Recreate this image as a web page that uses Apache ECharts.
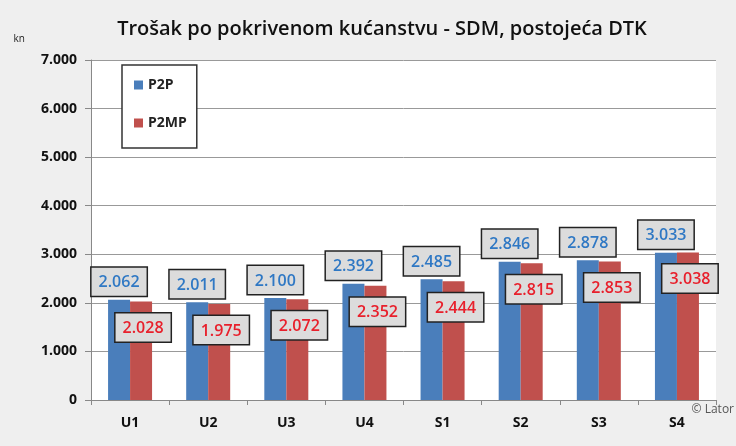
<!DOCTYPE html>
<html>
<head>
<meta charset="utf-8">
<script src="https://cdn.jsdelivr.net/npm/echarts@6/dist/echarts.min.js"></script>
<style>
  html, body { margin: 0; padding: 0; background: #efefef; }
  #chart { width: 736px; height: 446px; }
</style>
</head>
<body>
<div id="chart"></div>
<script>
const categories = ['U1', 'U2', 'U3', 'U4', 'S1', 'S2', 'S3', 'S4']
const p2p = [2062, 2011, 2100, 2392, 2485, 2846, 2878, 3033]
const p2mp = [2028, 1975, 2072, 2352, 2444, 2815, 2853, 3038]

// hrvatski zapis: točka kao razdjelnik tisućica
const fmt = v => String(v).replace(/\B(?=(\d{3})+(?!\d))/g, '.')

const boxLabel = {
  show: true,
  fontFamily: 'Open Sans',
  fontSize: 16,
  fontWeight: 600,
  backgroundColor: '#dcdcdc',
  borderColor: '#222',
  borderWidth: 1.5,
  padding: [7, 7, 5, 7],
  formatter: p => fmt(p.value)
}

const chart = echarts.init(document.getElementById('chart'))
chart.setOption({
  backgroundColor: '#efefef',
  title: {
    text: 'Trošak po pokrivenom kućanstvu - SDM, postojeća DTK',
    left: 377,
    textAlign: 'center',
    top: 14,
    textStyle: { fontFamily: 'Open Sans', fontSize: 20, fontWeight: 600, color: '#111' }
  },
  legend: {
    orient: 'vertical',
    left: 122,
    top: 65,
    itemWidth: 9,
    itemHeight: 9,
    itemGap: 24,
    icon: 'rect',
    padding: [13, 10, 18, 12],
    backgroundColor: '#fff',
    borderColor: '#333',
    borderWidth: 1.5,
    textStyle: { fontFamily: 'Open Sans', fontSize: 14, fontWeight: 'bold', color: '#222' }
  },
  grid: { left: 91, right: 20, top: 60, bottom: 46, show: true, backgroundColor: '#fff', borderWidth: 0 },
  xAxis: {
    type: 'category',
    data: categories,
    axisLine: { lineStyle: { color: '#888' } },
    axisTick: { show: true, length: 5, lineStyle: { color: '#888' } },
    axisLabel: { color: '#111', fontFamily: 'Open Sans', fontSize: 14, fontWeight: 'bold', margin: 16 }
  },
  yAxis: {
    type: 'value',
    min: 0,
    max: 7000,
    interval: 1000,
    name: 'kn',
    nameLocation: 'end',
    nameGap: 16,
    nameTextStyle: { fontFamily: 'Open Sans', fontSize: 10, color: '#222', align: 'right', padding: [0, 66, 0, 0] },
    axisLine: { show: true, lineStyle: { color: '#888' } },
    axisTick: { show: true, length: 6, lineStyle: { color: '#888' } },
    splitLine: { lineStyle: { color: '#999', width: 1 } },
    axisLabel: { color: '#111', fontFamily: 'Open Sans', fontSize: 14, fontWeight: 'bold', margin: 14, formatter: fmt }
  },
  series: [
    {
      name: 'P2P',
      type: 'bar',
      data: p2p,
      barWidth: 22,
      barGap: '0%',
      itemStyle: { color: '#4a7ebb' },
      label: Object.assign({}, boxLabel, { position: 'top', distance: 4, color: '#2f78c4' })
    },
    {
      name: 'P2MP',
      type: 'bar',
      data: p2mp,
      barWidth: 22,
      itemStyle: { color: '#c0504d' },
      label: Object.assign({}, boxLabel, { position: 'insideTop', distance: 12, offset: [2, 0], color: '#e8202c' })
    }
  ],
  graphic: [
    {
      type: 'text',
      right: 2,
      top: 404,
      style: { text: '© Lator', fontFamily: 'Open Sans', fontSize: 12, fill: '#555' }
    }
  ]
})
</script>
</body>
</html>
